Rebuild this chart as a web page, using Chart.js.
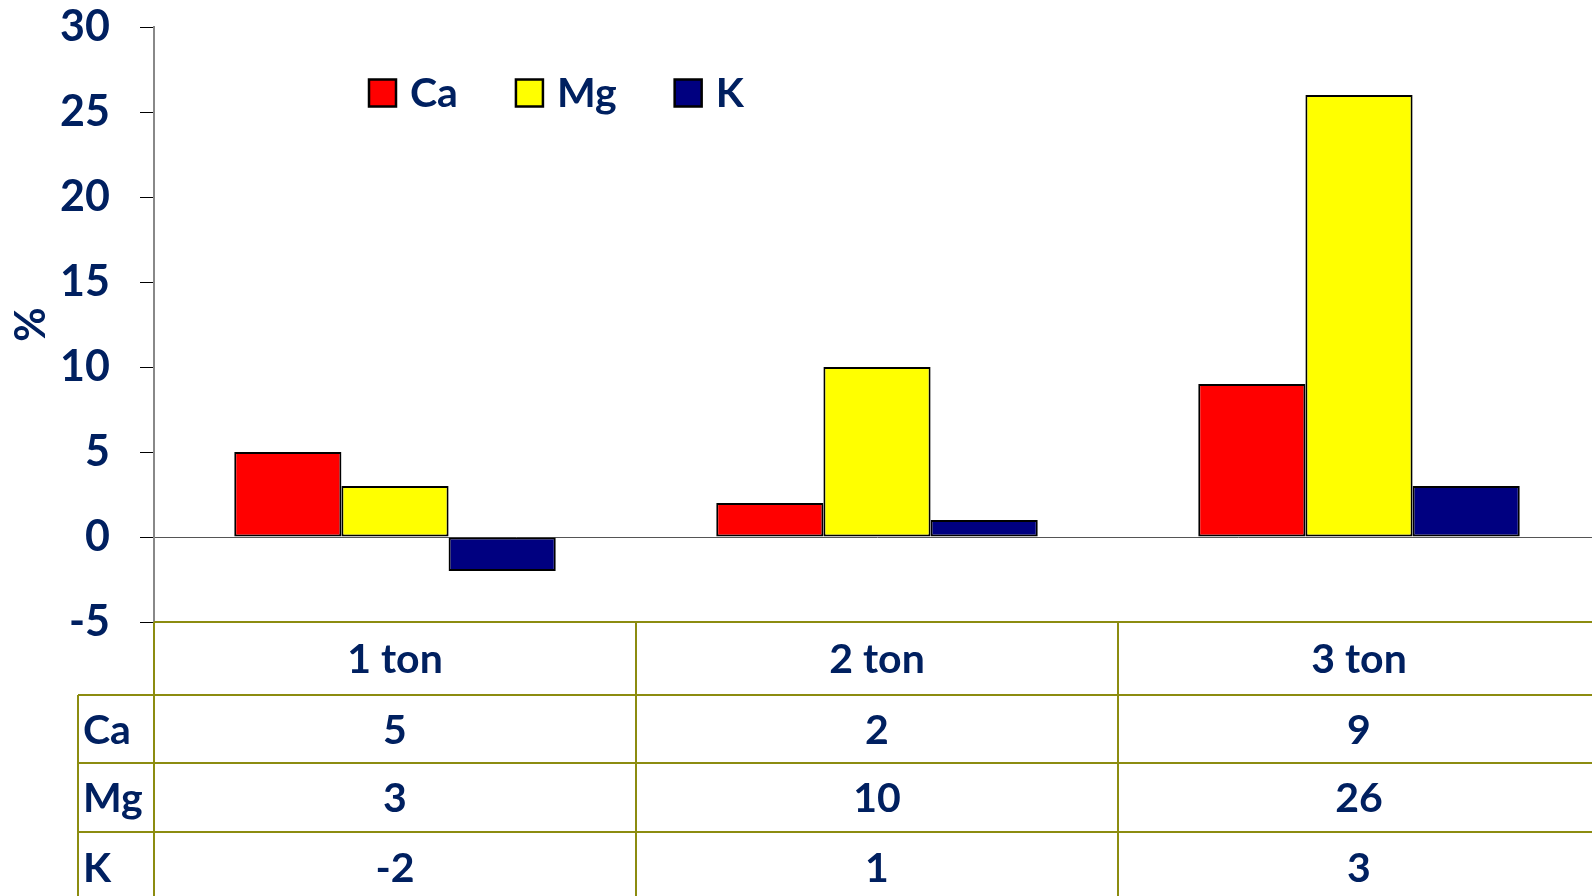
<!DOCTYPE html>
<html>
<head>
<meta charset="utf-8">
<script src="https://cdn.jsdelivr.net/npm/chart.js@4"></script>
<style>
  html, body { margin: 0; padding: 0; background: #fff; overflow: hidden; }
</style>
</head>
<body>
<canvas id="nutrientChart" width="1600" height="896"></canvas>
<script>
// data
var categories = ['1 ton', '2 ton', '3 ton'];
var seriesNames = ['Ca', 'Mg', 'K'];
var caValues = [5, 2, 9];
var mgValues = [3, 10, 26];
var kValues = [-2, 1, 3];
var yMin = -5, yMax = 30, yStep = 5;

var navy = '#002060';
var olive = '#8c8c10';
var fontFamily = 'Lato, "Open Sans", sans-serif';

// legend drawn at the top of the plot, like the original
var topLegend = {
  id: 'topLegend',
  afterDraw: function(chart) {
    var ctx = chart.ctx;
    ctx.save();
    ctx.font = 'bold 41px ' + fontFamily;
    ctx.textAlign = 'left';
    ctx.textBaseline = 'alphabetic';
    var x = chart.chartArea.left + 215;
    var cy = 93;
    chart.data.datasets.forEach(function(ds) {
      ctx.fillStyle = ds.backgroundColor;
      ctx.fillRect(x, cy - 13.5, 27, 27);
      ctx.lineWidth = 2.5;
      ctx.strokeStyle = '#000';
      ctx.strokeRect(x, cy - 13.5, 27, 27);
      ctx.fillStyle = navy;
      ctx.fillText(ds.label, x + 41, cy + 14);
      x += 41 + ctx.measureText(ds.label).width + 58;
    });
    ctx.restore();
  }
};

// data table under the plot
var dataTable = {
  id: 'dataTable',
  afterDraw: function(chart) {
    var ctx = chart.ctx;
    var area = chart.chartArea;
    var colW = (area.right - area.left) / categories.length;
    var rowH = [73, 68, 69, 70];
    var rowTop = [area.bottom];
    for (var i = 0; i < rowH.length; i++) rowTop.push(rowTop[i] + rowH[i]);
    var labelLeft = 78;

    ctx.save();
    ctx.strokeStyle = olive;
    ctx.lineWidth = 2;
    ctx.beginPath();
    // horizontal lines
    ctx.moveTo(area.left, rowTop[0]); ctx.lineTo(area.right, rowTop[0]);
    for (var r = 1; r < rowTop.length; r++) {
      ctx.moveTo(labelLeft, rowTop[r]); ctx.lineTo(area.right, rowTop[r]);
    }
    // vertical lines
    ctx.moveTo(labelLeft, rowTop[1]); ctx.lineTo(labelLeft, rowTop[4]);
    for (var c = 0; c <= categories.length; c++) {
      var vx = area.left + c * colW;
      ctx.moveTo(vx, rowTop[0]); ctx.lineTo(vx, rowTop[4]);
    }
    ctx.stroke();

    ctx.fillStyle = navy;
    ctx.font = 'bold 41px ' + fontFamily;
    ctx.textBaseline = 'alphabetic';
    ctx.textAlign = 'center';
    categories.forEach(function(cat, i) {
      var cx = area.left + (i + 0.5) * colW;
      ctx.fillText(cat, cx, rowTop[0] + rowH[0] / 2 + 14.5);
    });
    chart.data.datasets.forEach(function(ds, r) {
      var base = rowTop[r + 1] + rowH[r + 1] / 2 + 14.5;
      ctx.textAlign = 'left';
      ctx.fillText(ds.label, labelLeft + 5, base);
      ctx.textAlign = 'center';
      ds.data.forEach(function(v, i) {
        ctx.fillText(String(v), area.left + (i + 0.5) * colW, base);
      });
    });
    ctx.restore();
  }
};

var barStyle = {
  borderColor: '#000',
  borderWidth: 2,
  borderSkipped: false,
  categoryPercentage: 0.667,
  barPercentage: 1
};

var chart = new Chart(document.getElementById('nutrientChart'), {
  type: 'bar',
  data: {
    labels: categories,
    datasets: [
      Object.assign({ label: seriesNames[0], data: caValues, backgroundColor: '#ff0000' }, barStyle),
      Object.assign({ label: seriesNames[1], data: mgValues, backgroundColor: '#ffff00' }, barStyle),
      Object.assign({ label: seriesNames[2], data: kValues, backgroundColor: '#000080' }, barStyle)
    ]
  },
  options: {
    responsive: false,
    animation: false,
    layout: { padding: { top: 27, left: 0, right: 0, bottom: 274 } },
    plugins: {
      legend: { display: false },
      tooltip: { enabled: false }
    },
    scales: {
      x: { display: false },
      y: {
        min: yMin,
        max: yMax,
        afterFit: function(scale) {
          scale.width = 154;
          scale.paddingTop = 0;
          scale.paddingBottom = 0;
        },
        ticks: {
          stepSize: yStep,
          color: navy,
          padding: 30,
          font: { family: fontFamily, size: 43, weight: 'bold' }
        },
        grid: {
          color: function(c) { return c.tick && c.tick.value === 0 ? '#555' : 'transparent'; },
          tickColor: '#000',
          tickLength: 14,
          lineWidth: 1
        },
        border: { display: true, color: '#888', width: 2 },
        title: {
          display: true,
          text: '%',
          color: navy,
          padding: { top: 6, bottom: 0 },
          font: { family: fontFamily, size: 42, weight: 'bold' }
        }
      }
    }
  },
  plugins: [topLegend, dataTable]
});
</script>
</body>
</html>
